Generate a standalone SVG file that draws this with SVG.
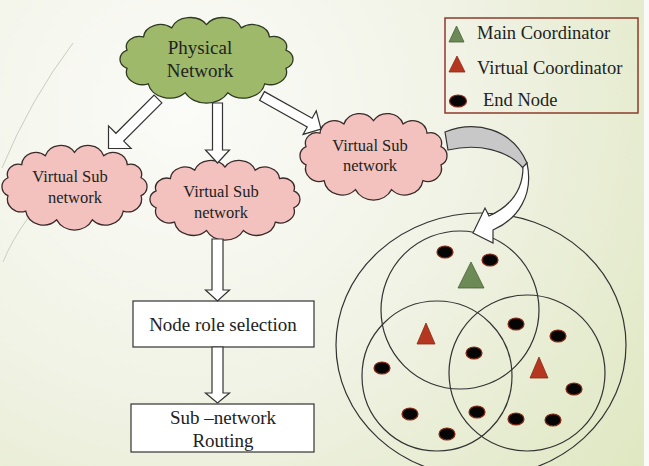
<svg xmlns="http://www.w3.org/2000/svg" xmlns:xlink="http://www.w3.org/1999/xlink" width="649" height="466" viewBox="0 0 649 466">
<defs>
<radialGradient id="bg" cx="180" cy="110" r="620" gradientUnits="userSpaceOnUse">
<stop offset="0" stop-color="#fbfbf8"/>
<stop offset="0.45" stop-color="#f1f3e6"/>
<stop offset="1" stop-color="#dde6bd"/>
</radialGradient>
<path id="cloud" vector-effect="non-scaling-stroke" d="M8.5,24 A6.9,6.9 0 0 1 17.1,15.2 A8.9,8.9 0 0 1 31.8,9.2 A10.2,10.2 0 0 1 50,7 A10.2,10.2 0 0 1 68.2,9.2 A8.9,8.9 0 0 1 82.9,15.2 A6.9,6.9 0 0 1 91.5,24 A6.7,6.7 0 0 1 91.5,36 A8.5,8.5 0 0 1 80.4,46.3 A11.3,11.3 0 0 1 61.1,52.2 A12.4,12.4 0 0 1 38.9,52.2 A11.3,11.3 0 0 1 19.6,46.3 A8.5,8.5 0 0 1 8.5,36 A6.7,6.7 0 0 1 8.5,24 Z"/>
<style>
.t{font-family:"Liberation Serif","Times New Roman",serif;fill:#222}
.c{font-size:16.5px;text-anchor:middle}
.b{font-size:19px;text-anchor:middle}
.lg{font-size:18.5px}
.green{fill:#9eb96a;stroke:#2f3a22;stroke-width:1.3}
.pink{fill:#f3c2be;stroke:#3a2a2a;stroke-width:1.3}
.box{fill:#fff;stroke:#333;stroke-width:1.2}
.arr{fill:#fff;stroke:#333;stroke-width:1.2;stroke-linejoin:miter}
.ring{fill:none;stroke:#333;stroke-width:1.2}
.en{fill:#050505;stroke:#8a2a14;stroke-width:1.2}
.mc{fill:#6b8a55;stroke:#4a5e3a;stroke-width:0.8}
.vc{fill:#b5371f;stroke:#8a2a14;stroke-width:0.8}
</style>
</defs>
<rect width="649" height="466" fill="url(#bg)"/>
<rect x="644" y="0" width="5" height="466" fill="#fafaf6"/>
<g id="decor" stroke="#c9cec0" stroke-width="1" fill="none">
<path d="M73,43 Q30,100 2,168"/>
<path d="M28,218 Q12,240 3,262"/>
</g>

<g id="physical-network">
<use xlink:href="#cloud" class="green" transform="translate(110.8,14) scale(1.914,1.509)"/>
<text class="t b" x="200" y="54">Physical</text>
<text class="t b" x="200" y="77">Network</text>
</g>
<g id="vsub-left">
<use xlink:href="#cloud" class="pink" transform="translate(-5.7,142) scale(1.604,1.491)"/>
<text class="t c" x="70" y="182">Virtual Sub</text>
<text class="t c" x="75" y="203">network</text>
</g>
<g id="vsub-middle">
<use xlink:href="#cloud" class="pink" transform="translate(142,157.2) scale(1.659,1.404)"/>
<text class="t c" x="221" y="197">Virtual Sub</text>
<text class="t c" x="221" y="218">network</text>
</g>
<g id="vsub-right">
<use xlink:href="#cloud" class="pink" transform="translate(292.2,110) scale(1.626,1.526)"/>
<text class="t c" x="370" y="151">Virtual Sub</text>
<text class="t c" x="370" y="171">network</text>
</g>
<g id="node-role">
<rect class="box" x="133" y="301" width="181" height="46"/>
<text class="t b" x="223" y="331">Node role selection</text>
</g>
<g id="routing">
<rect class="box" x="131" y="404" width="183" height="48"/>
<text class="t b" x="223" y="424">Sub –network</text>
<text class="t b" x="223" y="447">Routing</text>
</g>

<g id="legend">
<rect x="445" y="18" width="193" height="95" fill="none" stroke="#8c3b2b" stroke-width="1.5"/>
<polygon class="mc" points="456.5,26 449,42 464,42"/>
<text class="t lg" x="477" y="39">Main Coordinator</text>
<polygon class="vc" points="457,56 449,72 465,72"/>
<text class="t lg" x="477" y="74">Virtual Coordinator</text>
<ellipse class="en" cx="458" cy="101" rx="8.5" ry="6"/>
<text class="t lg" x="483" y="106">End Node</text>
</g>

<g id="subnetwork-detail">
<ellipse class="ring" cx="481" cy="345" rx="145" ry="132"/>
<circle class="ring" cx="460" cy="310" r="79"/>
<circle class="ring" cx="437" cy="376" r="75"/>
<circle class="ring" cx="527" cy="373" r="78"/>
<polygon class="mc" points="471,262 458,288 484,288"/>
<polygon class="vc" points="426,323 417,344 435,344"/>
<polygon class="vc" points="539,357 530,378 548,378"/>
<ellipse class="en" cx="445" cy="252" rx="8" ry="6"/>
<ellipse class="en" cx="490" cy="260" rx="8" ry="6"/>
<ellipse class="en" cx="516" cy="324" rx="8" ry="6"/>
<ellipse class="en" cx="558" cy="336" rx="8" ry="6"/>
<ellipse class="en" cx="474" cy="353" rx="8" ry="6"/>
<ellipse class="en" cx="382" cy="368" rx="8" ry="6"/>
<ellipse class="en" cx="574" cy="389" rx="8" ry="6"/>
<ellipse class="en" cx="410" cy="414" rx="8" ry="6"/>
<ellipse class="en" cx="477" cy="412" rx="8" ry="6"/>
<ellipse class="en" cx="516" cy="419" rx="8" ry="6"/>
<ellipse class="en" cx="553" cy="420" rx="8" ry="6"/>
<ellipse class="en" cx="447" cy="434" rx="8" ry="6"/>
</g>

<g id="connectors">
<polygon class="arr" transform="translate(158,99) rotate(135)" points="0,-5.5 54,-5.5 54,-16 70,0 54,16 54,5.5 0,5.5"/>
<polygon class="arr" transform="translate(217.5,103) rotate(90)" points="0,-5 47,-5 47,-12 60,0 47,12 47,5 0,5"/>
<polygon class="arr" transform="translate(262,96) rotate(29.2)" points="0,-5 54.6,-5 54.6,-13.5 67.6,0 54.6,13.5 54.6,5 0,5"/>
<polygon class="arr" transform="translate(217.5,239) rotate(90)" points="0,-5.5 51,-5.5 51,-12 62,0 51,12 51,5.5 0,5.5"/>
<polygon class="arr" transform="translate(217.5,347) rotate(90)" points="0,-5.5 46,-5.5 46,-12 56,0 46,12 46,5.5 0,5.5"/>
<path fill="#c8c8c8" stroke="#333" stroke-width="1.2" d="M445,132 C475,120 512,128 527,163 L523,168 C508,150 478,143 448,150 Z"/>
<path class="arr" d="M523,167 C523,188 513,205 489,216 L485,208 L473,233 L493,243 L493,230 C518,219 534,195 527,163 Z"/>
</g>
</svg>
